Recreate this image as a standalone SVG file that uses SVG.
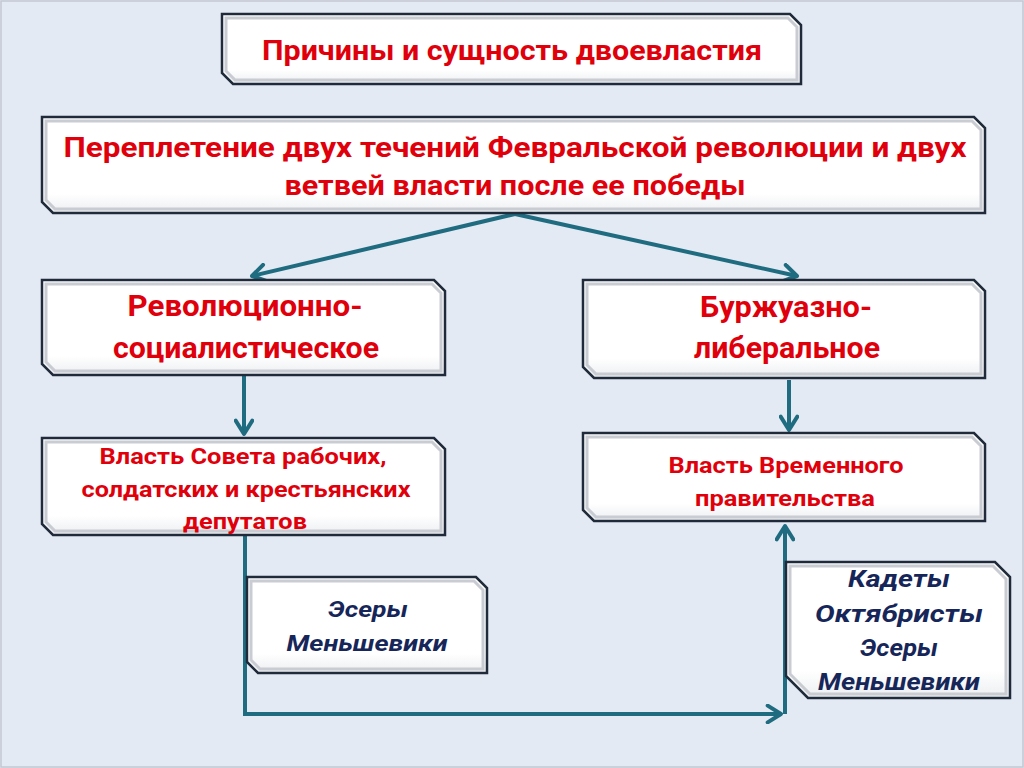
<svg xmlns="http://www.w3.org/2000/svg" width="1024" height="768" viewBox="0 0 1024 768">
<defs>
<linearGradient id="fillg" x1="0" y1="0" x2="0" y2="1">
<stop offset="0" stop-color="#ffffff"/>
<stop offset="0.8" stop-color="#ffffff"/>
<stop offset="1" stop-color="#eceef1"/>
</linearGradient>
<marker id="arr" viewBox="0 0 12 12" refX="10" refY="6" markerWidth="5" markerHeight="5" markerUnits="strokeWidth" orient="auto">
<polyline points="2,1 10,6 2,11" fill="none" stroke="#1f6c80" stroke-width="2.4" stroke-linecap="round" stroke-linejoin="round"/>
</marker>
<style>
.box{fill:url(#fillg);stroke:#1f2a3a;stroke-width:2.5;stroke-linejoin:miter}
.bev{fill:none;stroke:#c9ccd2;stroke-width:3}
.red{font-family:Roboto,"Liberation Sans",Arial,sans-serif;font-weight:bold;fill:#e0000b;text-anchor:middle}
.blue{font-family:Roboto,"Liberation Sans",Arial,sans-serif;font-weight:bold;font-style:italic;fill:#172659;text-anchor:middle}
.con{fill:none;stroke:#1f6c80;stroke-width:4}
</style>
</defs>
<rect x="0" y="0" width="1024" height="768" fill="#e4eaf3"/>
<rect x="1" y="1" width="1022" height="766" fill="none" stroke="#c2c8d2" stroke-width="1.5"/>

<g id="connectors">
<line class="con" x1="515" y1="214" x2="252" y2="276" marker-end="url(#arr)"/>
<line class="con" x1="515" y1="214" x2="797" y2="276" marker-end="url(#arr)"/>
<line class="con" x1="244" y1="376" x2="244" y2="434" marker-end="url(#arr)"/>
<line class="con" x1="789" y1="380" x2="789" y2="430" marker-end="url(#arr)"/>
<polyline class="con" points="245,536 245,714 781,714" marker-end="url(#arr)"/>
<line class="con" x1="785" y1="714" x2="785" y2="526" marker-end="url(#arr)"/>
</g>

<g id="title">
<polygon class="box" points="222,14 790,14 801,25 801,84 233,84 222,73"/>
<polygon class="bev" points="226,18 788,18 797,27 797,80 235,80 226,71"/>
<text class="red" x="512" y="60" font-size="27" textLength="500" lengthAdjust="spacingAndGlyphs">Причины и сущность двоевластия</text>
</g>

<g id="main">
<polygon class="box" points="42,117 974,117 985,128 985,213 53,213 42,202"/>
<polygon class="bev" points="46,121 972,121 981,130 981,209 55,209 46,200"/>
<text class="red" x="515" y="157" font-size="28" textLength="903" lengthAdjust="spacingAndGlyphs">Переплетение двух течений Февральской революции и двух</text>
<text class="red" x="515" y="195" font-size="28" textLength="461" lengthAdjust="spacingAndGlyphs">ветвей власти после ее победы</text>
</g>

<g id="revsoc">
<polygon class="box" points="42,280 434,280 445,291 445,375 53,375 42,364"/>
<polygon class="bev" points="46,284 432,284 441,293 441,371 55,371 46,362"/>
<text class="red" x="245" y="316" font-size="29" textLength="235" lengthAdjust="spacingAndGlyphs">Революционно-</text>
<text class="red" x="246" y="358" font-size="29" textLength="266" lengthAdjust="spacingAndGlyphs">социалистическое</text>
</g>

<g id="burlib">
<polygon class="box" points="583,280 974,280 985,291 985,378 594,378 583,367"/>
<polygon class="bev" points="587,284 972,284 981,293 981,374 596,374 587,365"/>
<text class="red" x="786" y="317" font-size="29" textLength="172" lengthAdjust="spacingAndGlyphs">Буржуазно-</text>
<text class="red" x="787" y="358" font-size="29" textLength="186" lengthAdjust="spacingAndGlyphs">либеральное</text>
</g>

<g id="soviet">
<polygon class="box" points="42,438 434,438 445,449 445,535 53,535 42,524"/>
<polygon class="bev" points="46,442 432,442 441,451 441,531 55,531 46,522"/>
<text class="red" x="243" y="464" font-size="22" textLength="287" lengthAdjust="spacingAndGlyphs">Власть Совета рабочих,</text>
<text class="red" x="246" y="497" font-size="22" textLength="329" lengthAdjust="spacingAndGlyphs">солдатских и крестьянских</text>
<text class="red" x="245" y="529" font-size="22" textLength="124" lengthAdjust="spacingAndGlyphs">депутатов</text>
</g>

<g id="provgov">
<polygon class="box" points="583,433 974,433 985,444 985,521 594,521 583,510"/>
<polygon class="bev" points="587,437 972,437 981,446 981,517 596,517 587,508"/>
<text class="red" x="786" y="473" font-size="22" textLength="235" lengthAdjust="spacingAndGlyphs">Власть Временного</text>
<text class="red" x="785" y="506" font-size="22" textLength="180" lengthAdjust="spacingAndGlyphs">правительства</text>
</g>

<g id="esers">
<polygon class="box" points="247,577 476,577 487,588 487,673 258,673 247,662"/>
<polygon class="bev" points="251,581 474,581 483,590 483,669 260,669 251,660"/>
<text class="blue" x="368" y="617" font-size="22" textLength="80" lengthAdjust="spacingAndGlyphs">Эсеры</text>
<text class="blue" x="367" y="651" font-size="22" textLength="161" lengthAdjust="spacingAndGlyphs">Меньшевики</text>
</g>

<g id="kadets">
<polygon class="box" points="786,562 995,562 1010,577 1010,698 808,698 786,676"/>
<polygon class="bev" points="790,566 993,566 1006,579 1006,694 810,694 790,674"/>
<text class="blue" x="899" y="587" font-size="23" textLength="102" lengthAdjust="spacingAndGlyphs">Кадеты</text>
<text class="blue" x="899" y="622" font-size="23" textLength="168" lengthAdjust="spacingAndGlyphs">Октябристы</text>
<text class="blue" x="899" y="656" font-size="23" textLength="78" lengthAdjust="spacingAndGlyphs">Эсеры</text>
<text class="blue" x="899" y="690" font-size="23" textLength="162" lengthAdjust="spacingAndGlyphs">Меньшевики</text>
</g>
</svg>
